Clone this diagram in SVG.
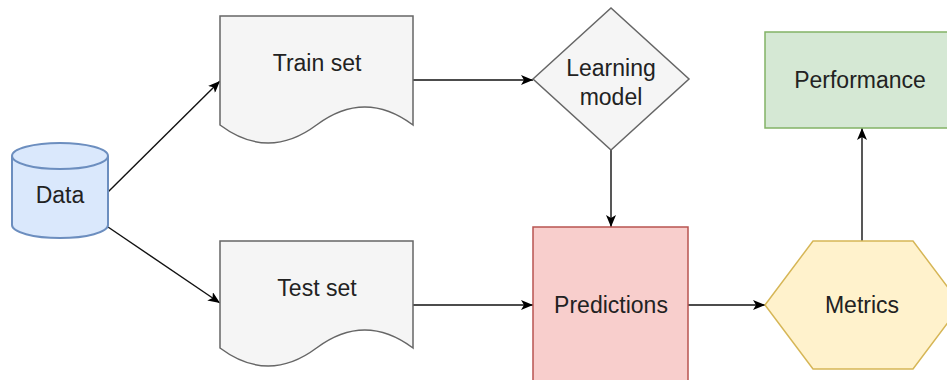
<svg xmlns="http://www.w3.org/2000/svg" width="947" height="380" viewBox="0 0 947 380">
  <defs>
    <marker id="arrow" viewBox="0 0 12 10" refX="12" refY="5" markerWidth="12" markerHeight="10" markerUnits="userSpaceOnUse" orient="auto">
      <path d="M0,0 L12,5 L0,10 L3,5 Z" fill="#000"/>
    </marker>
    <style>
      .lbl { font-family: "Liberation Sans", Arial, sans-serif; font-size: 23px; fill: #222; text-anchor: middle; }
      .edge { fill: none; stroke: #111; stroke-width: 1.4; marker-end: url(#arrow); }
      .doc { fill: #f5f5f5; stroke: #666666; stroke-width: 1.5; }
    </style>
  </defs>
  <rect width="947" height="380" fill="#ffffff"/>

  <g id="connectors">
    <line class="edge" x1="108" y1="192" x2="220" y2="81"/>
    <line class="edge" x1="108" y1="227" x2="220" y2="303"/>
    <line class="edge" x1="413" y1="80" x2="533" y2="80"/>
    <line class="edge" x1="611" y1="150" x2="611" y2="227"/>
    <line class="edge" x1="413" y1="305" x2="533" y2="305"/>
    <line class="edge" x1="688" y1="305" x2="765" y2="305"/>
    <line class="edge" x1="862" y1="241" x2="862" y2="128"/>
  </g>

  <g id="data">
    <path d="M12,156 A48,13 0 0 1 108,156 V225 A48,13 0 0 1 12,225 Z" fill="#dae8fc" stroke="#6c8ebf" stroke-width="2"/>
    <path d="M12,156 A48,13 0 0 0 108,156" fill="none" stroke="#6c8ebf" stroke-width="2"/>
    <text class="lbl" x="60" y="203">Data</text>
  </g>

  <g id="train-set">
    <path class="doc" d="M220,16 H413 V125 Q364.75,89 316.5,125 Q268.25,161 220,125 Z"/>
    <text class="lbl" x="317" y="71">Train set</text>
  </g>

  <g id="test-set">
    <path class="doc" d="M220,241 H413 V348 Q364.75,312 316.5,348 Q268.25,384 220,348 Z"/>
    <text class="lbl" x="317" y="296">Test set</text>
  </g>

  <g id="learning-model">
    <polygon points="533,79 611,8 689,79 611,150" fill="#f5f5f5" stroke="#666666" stroke-width="1.5"/>
    <text class="lbl" x="611" y="76">Learning</text>
    <text class="lbl" x="611" y="105">model</text>
  </g>

  <g id="predictions">
    <rect x="533" y="227" width="155" height="160" fill="#f8cecc" stroke="#b85450" stroke-width="1.5"/>
    <text class="lbl" x="611" y="313">Predictions</text>
  </g>

  <g id="metrics">
    <polygon points="765,305 813,241 913,241 961,305 913,369 813,369" fill="#fff2cc" stroke="#d6b656" stroke-width="1.5"/>
    <text class="lbl" x="862" y="313">Metrics</text>
  </g>

  <g id="performance">
    <rect x="765" y="32" width="192" height="96" fill="#d5e8d4" stroke="#82b366" stroke-width="1.5"/>
    <text class="lbl" x="860" y="88">Performance</text>
  </g>
</svg>
